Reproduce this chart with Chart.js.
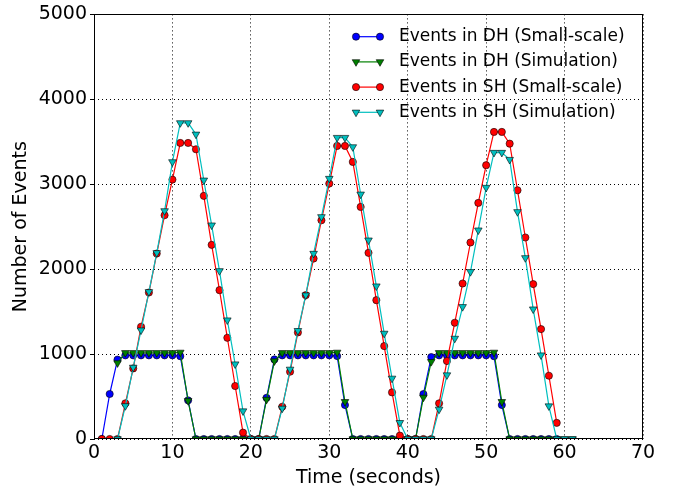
<!DOCTYPE html>
<html><head><meta charset="utf-8">
<script src="https://cdn.jsdelivr.net/npm/chart.js@4/dist/chart.umd.min.js"></script>
<style>html,body{margin:0;padding:0;background:#fff;} canvas{display:block;}</style>
</head><body>
<canvas id="c" width="678" height="492"></canvas>
<script>
// ---- data ----
const timeSmall = [1,2,3,4,5,6,7,8,9,10,11,12,13,14,15,16,17,18,19,20,21,22,23,24,25,26,27,28,29,30,31,32,33,34,35,36,37,38,39,40,41,42,43,44,45,46,47,48,49,50,51,52,53,54,55,56,57,58,59];
const timeSim = [3,4,5,6,7,8,9,10,11,12,13,14,15,16,17,18,19,20,21,22,23,24,25,26,27,28,29,30,31,32,33,34,35,36,37,38,39,40,41,42,43,44,45,46,47,48,49,50,51,52,53,54,55,56,57,58,59,60,61];

const dhSmall = [0,530,935,985,985,985,985,985,985,985,975,455,0,0,0,0,0,0,0,0,0,485,937,985,985,985,985,985,985,985,976,400,0,0,0,0,0,0,0,0,0,529,965,985,985,985,985,985,985,985,975,400,0,0,0,0,0,0,0];
const dhSim = [895,1015,1015,1015,1015,1015,1015,1015,1020,450,0,0,0,0,0,0,0,0,0,465,918,1015,1015,1015,1015,1015,1015,1015,1020,439,0,0,0,0,0,0,0,0,0,490,910,1015,1015,1015,1015,1015,1015,1015,1020,439,0,0,0,0,0,0,0,0,0];
const shSmall = [0,0,0,420,831,1322,1725,2184,2635,3055,3486,3486,3412,2863,2286,1753,1192,624,75,0,0,0,0,380,792,1255,1694,2125,2576,3008,3451,3451,3263,2733,2192,1635,1094,549,40,0,0,0,0,420,918,1369,1831,2314,2780,3224,3616,3616,3478,2929,2373,1824,1294,745,190];
const shSim = [0,390,843,1282,1733,2192,2686,3263,3722,3722,3588,3047,2518,1980,1400,882,329,0,0,0,0,361,820,1275,1694,2184,2616,3067,3549,3549,3439,2882,2341,1800,1243,714,192,0,0,0,0,349,753,1184,1557,1969,2459,2961,3373,3373,3290,2675,2133,1529,988,388,0,0,0];

const xTicks = [0,10,20,30,40,50,60,70];
const yTicks = [0,1000,2000,3000,4000,5000];
const seriesLabels = ['Events in DH (Small-scale)','Events in DH (Simulation)','Events in SH (Small-scale)','Events in SH (Simulation)'];
const xTitle = 'Time (seconds)';
const yTitle = 'Number of Events';

// ---- styles ----
const colors = ['#0000ff','#008000','#ff0000','#00bfbf'];
const shapes = ['circle','triangle','circle','triangle'];
const FONT = "'DejaVu Sans'";
Chart.defaults.font.family = FONT;
Chart.defaults.color = '#000';

function pts(xs, ys){ return xs.map((t,i)=>({x:t, y:ys[i]})); }
function ds(i, xs, ys, order){
  const tri = shapes[i]==='triangle';
  return {
    label: seriesLabels[i], data: pts(xs, ys),
    borderColor: colors[i], backgroundColor: colors[i], borderWidth: 1.2,
    pointStyle: shapes[i], pointRotation: tri ? 180 : 0,
    pointRadius: tri ? 4.4 : 3.6, pointHoverRadius: tri ? 4.4 : 3.6,
    pointBackgroundColor: colors[i], pointBorderColor: '#000', pointBorderWidth: 0.6,
    tension: 0, clip: 0, order: order, fill: false
  };
}

function drawMarker(ctx, shape, x, y, color){
  ctx.save();
  ctx.fillStyle = color; ctx.strokeStyle = '#000'; ctx.lineWidth = 0.6;
  ctx.beginPath();
  if (shape==='circle'){ ctx.arc(x, y, 3.6, 0, Math.PI*2); }
  else {
    const r = 4.4; let a = Math.PI;
    ctx.moveTo(x + Math.sin(a)*r, y - Math.cos(a)*r);
    a += 2*Math.PI/3; ctx.lineTo(x + Math.sin(a)*r, y - Math.cos(a)*r);
    a += 2*Math.PI/3; ctx.lineTo(x + Math.sin(a)*r, y - Math.cos(a)*r);
    ctx.closePath();
  }
  ctx.fill(); ctx.stroke();
  ctx.restore();
}

const framePlugin = {
  id: 'frame',
  afterDatasetsDraw(chart){
    const {ctx, chartArea:a} = chart;
    ctx.save();
    ctx.strokeStyle = '#000'; ctx.lineWidth = 1; ctx.setLineDash([]);
    ctx.strokeRect(Math.round(a.left)+0.5, Math.round(a.top)+0.5, Math.round(a.right-a.left)-1, Math.round(a.bottom-a.top)-1);
    ctx.restore();
  },
  afterDraw(chart){
    const ctx = chart.ctx;
    const x0 = 356, x1 = 380, tx = 399, y0 = 36.7, dy = 25.2;
    ctx.save();
    chart.data.datasets.forEach((d, i) => {
      const y = y0 + i*dy;
      ctx.strokeStyle = d.borderColor; ctx.lineWidth = 1.2; ctx.setLineDash([]);
      ctx.beginPath(); ctx.moveTo(x0, y); ctx.lineTo(x1, y); ctx.stroke();
      drawMarker(ctx, d.pointStyle, x0, y, d.borderColor);
      drawMarker(ctx, d.pointStyle, x1, y, d.borderColor);
      ctx.fillStyle = '#000'; ctx.font = '17px ' + FONT;
      ctx.textBaseline = 'middle'; ctx.textAlign = 'left';
      ctx.fillText(d.label, tx, y);
    });
    ctx.restore();
  }
};

new Chart(document.getElementById('c'), {
  type: 'line',
  data: {
    datasets: [
      ds(0, timeSmall, dhSmall, 3),
      ds(1, timeSim, dhSim, 2),
      ds(2, timeSmall, shSmall, 1),
      ds(3, timeSim, shSim, 0)
    ]
  },
  options: {
    responsive: false, devicePixelRatio: 1, animation: false,
    layout: { padding: { left: 0, top: 14, right: 35, bottom: 0 } },
    plugins: { legend: { display: false }, tooltip: { enabled: false } },
    scales: {
      x: {
        type: 'linear', min: 0, max: 70,
        afterBuildTicks: s => { s.ticks = xTicks.map(v => ({value: v})); },
        afterFit: s => { s.height = 53; },
        ticks: { autoSkip: false, maxRotation: 0, padding: 3, font: { size: 19 }, color: '#000', callback: v => String(v) },
        grid: { color: '#000', lineWidth: 1, drawTicks: false },
        border: { display: false, dash: [1,3] },
        title: { display: true, text: xTitle, font: { size: 19 }, color: '#000', padding: { top: 0, bottom: 3 } }
      },
      y: {
        type: 'linear', min: 0, max: 5000,
        afterBuildTicks: s => { s.ticks = yTicks.map(v => ({value: v})); },
        afterFit: s => { s.width = 94; },
        ticks: { autoSkip: false, padding: 3, font: { size: 19 }, color: '#000', callback: v => String(v) },
        grid: { color: '#000', lineWidth: 1, drawTicks: true, tickLength: 4, tickColor: '#000', tickBorderDash: [] },
        border: { display: false, dash: [1,3] },
        title: { display: true, text: yTitle, font: { size: 19 }, color: '#000', padding: { top: 10, bottom: 0 } }
      }
    }
  },
  plugins: [framePlugin]
});
</script>
</body></html>
